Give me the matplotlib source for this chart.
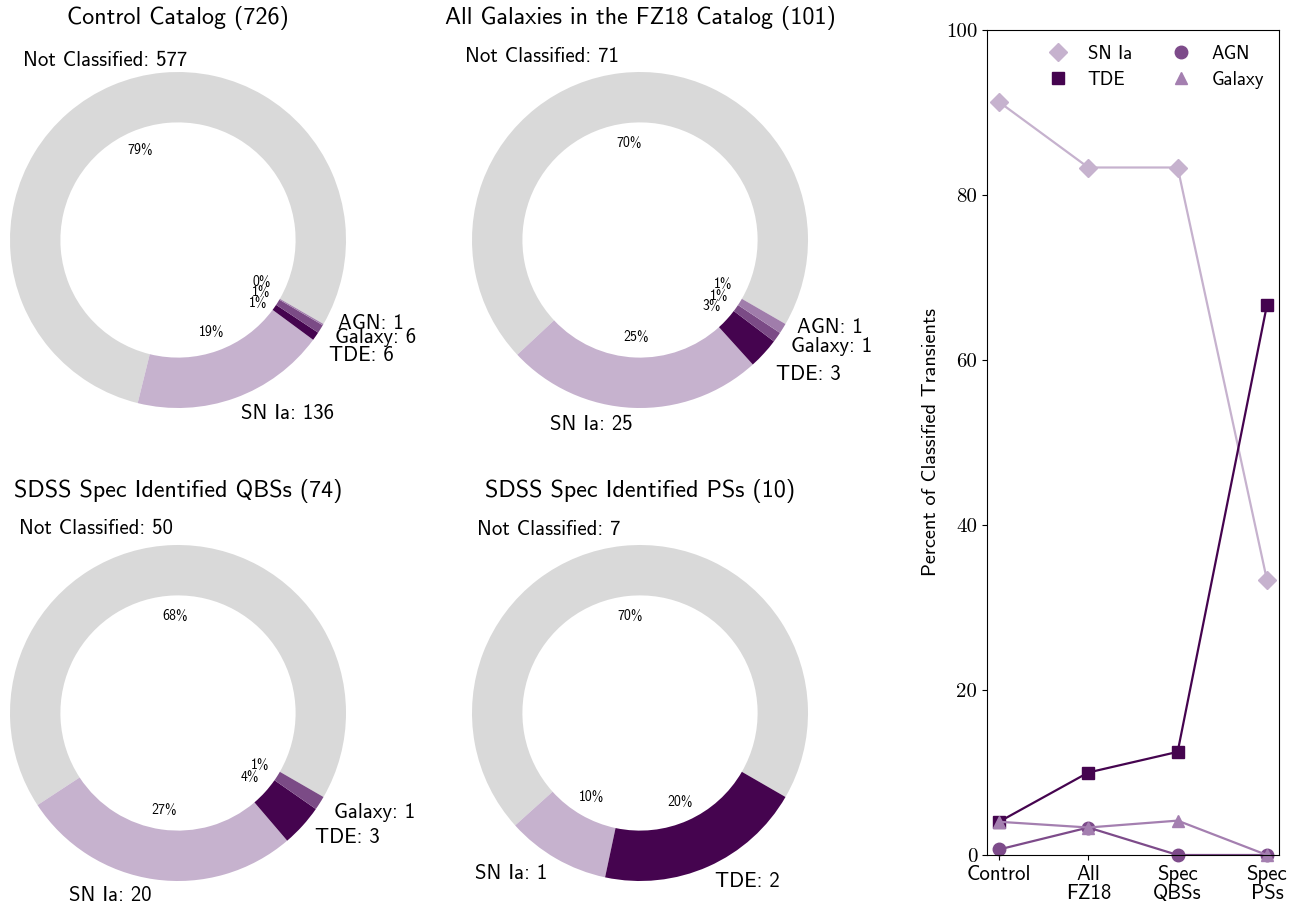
import numpy as np
import matplotlib as mpl
mpl.use('Agg')
import matplotlib.pyplot as plt

plt.rcParams['font.family'] = ['cmss10', 'DejaVu Sans']
plt.rcParams['axes.formatter.use_mathtext'] = True
plt.rcParams['mathtext.fontset'] = 'cm'

# counts per catalogue
titles = ['Control Catalog (726)', 'All Galaxies in the FZ18 Catalog (101)',
          'SDSS Spec Identified QBSs (74)', 'SDSS Spec Identified PSs (10)']
short_names = ['Control', 'All\nFZ18', 'Spec\nQBSs', 'Spec\nPSs']
classes = ['Not Classified', 'SN Ia', 'TDE', 'Galaxy', 'AGN']
not_classified = [577, 71, 50, 7]
sn_ia = [136, 25, 20, 1]
tde = [6, 3, 3, 2]
galaxy = [6, 1, 1, 0]
agn = [1, 1, 0, 0]

pie_colors = {'Not Classified': '#d9d9d9', 'SN Ia': '#c6b2ce', 'TDE': '#45044f',
              'Galaxy': '#7b4b86', 'AGN': '#a07dab'}
line_colors = {'SN Ia': '#c6b2ce', 'TDE': '#45044f', 'AGN': '#7d4b8a', 'Galaxy': '#a47fb0'}
markers = {'SN Ia': 'D', 'TDE': 's', 'AGN': 'o', 'Galaxy': '^'}

W, H = 1299, 908
fig = plt.figure(figsize=(W / 100, H / 100), dpi=100)

centers = [(178, 240), (640, 240), (178, 713), (640, 713)]
counts = np.array([not_classified, sn_ia, tde, galaxy, agn])

for k in range(4):
    cx, cy = centers[k]
    ax = fig.add_axes([(cx - 210) / W, (H - cy - 210) / H, 420 / W, 420 / H])
    vals = [c[k] for c in counts]
    names = [n for n, v in zip(classes, vals) if v > 0]
    vals = [v for v in vals if v > 0]
    labels = ['%s: %d' % (n, v) for n, v in zip(names, vals)]
    wedges, texts, autotexts = ax.pie(vals, labels=labels, colors=[pie_colors[n] for n in names],
                                      startangle=-30, autopct='%1.0f%%', pctdistance=0.58,
                                      wedgeprops=dict(width=0.3))
    for t in texts:
        t.set_fontsize(15)
    for t in autotexts:
        t.set_fontsize(10)
    # spread the crowded small-slice labels
    lab = dict(zip(names, texts))
    pct = dict(zip(names, autotexts))
    if 'AGN' in lab:
        lab['AGN'].set_va('bottom')
        lab['TDE'].set_va('top')
        pct['AGN'].set_va('bottom')
    if k == 0:
        lab['Not Classified'].set_ha('center')
        lab['Not Classified'].set_va('bottom')
        pct['TDE'].set_va('top')
    ax.set_title(titles[k], fontsize=17.3, pad=-3)

# percentage of classified transients
classified = counts[1:].sum(axis=0)
perc = {'SN Ia': 100.0 * np.array(sn_ia) / classified,
        'TDE': 100.0 * np.array(tde) / classified,
        'AGN': 100.0 * np.array(agn) / classified,
        'Galaxy': 100.0 * np.array(galaxy) / classified}

ax = fig.add_axes([987 / W, (H - 855) / H, 292 / W, 825 / H])
x = np.arange(len(short_names))
for name in ['SN Ia', 'TDE', 'AGN', 'Galaxy']:
    ax.plot(x, perc[name], '-', color=line_colors[name], lw=1.6)
    ax.plot(x, perc[name], linestyle='', marker=markers[name], color=line_colors[name],
            ms=9, label=name, clip_on=False)
ax.set_xlim(-0.135, 3.135)
ax.set_ylim(0, 100)
ax.set_xticks(x)
ax.set_xticklabels(short_names, fontsize=15, linespacing=1.0)
ax.set_yticks([0, 20, 40, 60, 80, 100])
ax.set_yticklabels(['0', '20', '40', '60', '80', '100'], fontsize=15, fontfamily='cmr10')
ax.set_ylabel('Percent of Classified Transients', fontsize=14.6)
ax.legend(loc='upper right', ncol=2, frameon=False, fontsize=13.6, handletextpad=0.6,
          columnspacing=1.6, labelspacing=0.4, borderaxespad=0.4)

fig.savefig('out.png', dpi=100)
